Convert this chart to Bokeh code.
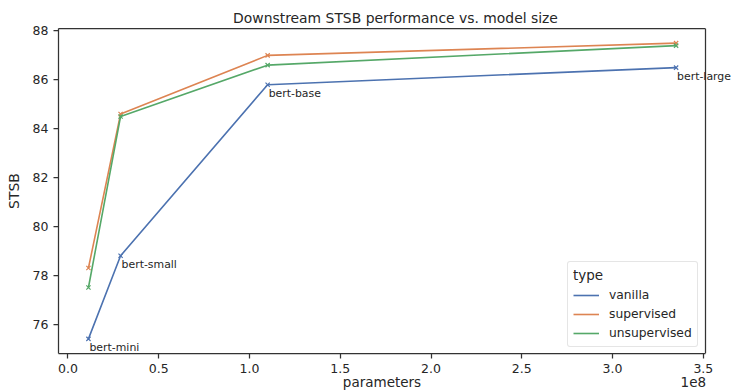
from bokeh.plotting import figure
from bokeh.models import (ColumnDataSource, LabelSet, FixedTicker, Legend, LegendItem,
                          Range1d, LinearAxis, Span)
from bokeh.embed import file_html
from bokeh.resources import INLINE
from bokeh.core.properties import value

# data
models = ["bert-mini", "bert-small", "bert-base", "bert-large"]
params = [11.3e6, 29e6, 110e6, 335e6]
vanilla = [75.4, 78.8, 85.8, 86.5]
supervised = [78.3, 84.6, 87.0, 87.5]
unsupervised = [77.5, 84.5, 86.6, 87.4]
series_names = ["vanilla", "supervised", "unsupervised"]
colors = ["#4C72B0", "#DD8452", "#55A868"]
x_ticks = [0, 0.5e8, 1.0e8, 1.5e8, 2.0e8, 2.5e8, 3.0e8, 3.5e8]
x_tick_labels = ["0.0", "0.5", "1.0", "1.5", "2.0", "2.5", "3.0", "3.5"]
y_ticks = [76, 78, 80, 82, 84, 86, 88]

FONT = "DejaVu Sans"
TXT = "#262626"
SPINE = "#333333"

# axes box limits (matplotlib-like 5% margins)
x_lo, x_hi = -5.2e6, 351.2e6
y_lo, y_hi = 74.8, 88.1
W, H = 732, 392
LEFT = 58
box_px = 647.0                      # pixel width of the axes box
frame_px = W - LEFT                 # frame extends to the right edge so labels can overflow the box
x_frame_hi = x_lo + frame_px * (x_hi - x_lo) / box_px

p = figure(width=W, height=H, output_backend="svg", toolbar_location=None,
           x_range=Range1d(x_lo, x_frame_hi), y_range=Range1d(y_lo, y_hi),
           title="Downstream STSB performance vs. model size",
           min_border_left=LEFT, min_border_right=0, min_border_top=28, min_border_bottom=0)

p.title.align = "center"
p.title.offset = -13
p.title.text_font = FONT
p.title.text_font_size = "13.9px"
p.title.text_font_style = "normal"
p.title.text_color = TXT
p.title.standoff = 5

p.grid.visible = False
p.outline_line_color = None
p.background_fill_color = "white"
p.border_fill_color = "white"

for ax in (p.xaxis[0], p.yaxis[0]):
    ax.axis_line_color = SPINE
    ax.axis_line_width = 1.25
    ax.major_tick_line_color = SPINE
    ax.major_tick_line_width = 1.25
    ax.major_tick_out = 5
    ax.major_tick_in = 0
    ax.minor_tick_line_color = None
    ax.major_label_text_font = FONT
    ax.major_label_text_font_size = "12.5px"
    ax.major_label_text_color = TXT
    ax.axis_label_text_font = FONT
    ax.axis_label_text_font_size = "14px"
    ax.axis_label_text_font_style = "normal"
    ax.axis_label_text_color = TXT

p.xaxis[0].bounds = (x_lo, x_hi)
p.xaxis[0].ticker = FixedTicker(ticks=x_ticks)
p.xaxis[0].major_label_overrides = {t: l for t, l in zip(x_ticks, x_tick_labels)}
p.xaxis[0].major_label_standoff = 5
p.yaxis.ticker = FixedTicker(ticks=y_ticks)
p.yaxis.axis_label = "STSB"
p.yaxis.axis_label_standoff = 8
p.yaxis.major_label_standoff = 5

# second row under the x axis: axis title and the offset text
x_mid = (x_lo + x_hi) / 2
x_off = 3.445e8
ax2 = LinearAxis(ticker=FixedTicker(ticks=[x_mid, x_off]),
                 major_label_overrides={x_mid: "parameters", x_off: "1e8"},
                 axis_line_color=None, major_tick_line_color=None, minor_tick_line_color=None,
                 major_tick_out=0, major_tick_in=0,
                 major_label_standoff=-2, major_label_text_font=FONT,
                 major_label_text_font_size="13.5px", major_label_text_color=TXT)
p.add_layout(ax2, "below")

# top spine
ax_top = LinearAxis(bounds=(x_lo, x_hi), ticker=FixedTicker(ticks=[]),
                    axis_line_color=SPINE, axis_line_width=1.25,
                    major_tick_line_color=None, minor_tick_line_color=None,
                    major_tick_out=0, major_tick_in=0,
                    major_label_text_font_size="0px", major_label_standoff=0)
p.add_layout(ax_top, "above")
# right spine
p.add_layout(Span(location=x_hi, dimension="height", line_color=SPINE, line_width=1.25))

items = []
for name, ys, c in zip(series_names, [vanilla, supervised, unsupervised], colors):
    src = ColumnDataSource(dict(x=params, y=ys))
    r = p.line("x", "y", source=src, line_color=c, line_width=1.6)
    p.scatter("x", "y", source=src, marker="x", size=6, line_color=c, line_width=1.2)
    items.append(LegendItem(label=name, renderers=[r]))

lab_src = ColumnDataSource(dict(x=params, y=vanilla, t=models))
labels = LabelSet(x="x", y="y", text="t", source=lab_src, x_offset=1, y_offset=-2,
                  text_font=value(FONT), text_font_size="10.9px", text_color=TXT,
                  text_baseline="top", text_align="left")
p.add_layout(labels)

legend = Legend(items=items, location=(509, 6), title="type")
legend.title_text_font = FONT
legend.title_text_font_size = "13.5px"
legend.title_text_font_style = "normal"
legend.title_text_color = TXT
legend.title_standoff = 4
legend.label_text_font = FONT
legend.label_text_font_size = "12.3px"
legend.label_text_color = TXT
legend.border_line_color = "#cccccc"
legend.border_line_width = 1
legend.border_radius = 3
legend.background_fill_alpha = 0.8
legend.glyph_width = 26
legend.glyph_height = 16
legend.label_height = 16
legend.spacing = 3
legend.padding = 5
legend.margin = 0
legend.label_standoff = 10
p.add_layout(legend)

open("out.html", "w").write(file_html(p, INLINE))
